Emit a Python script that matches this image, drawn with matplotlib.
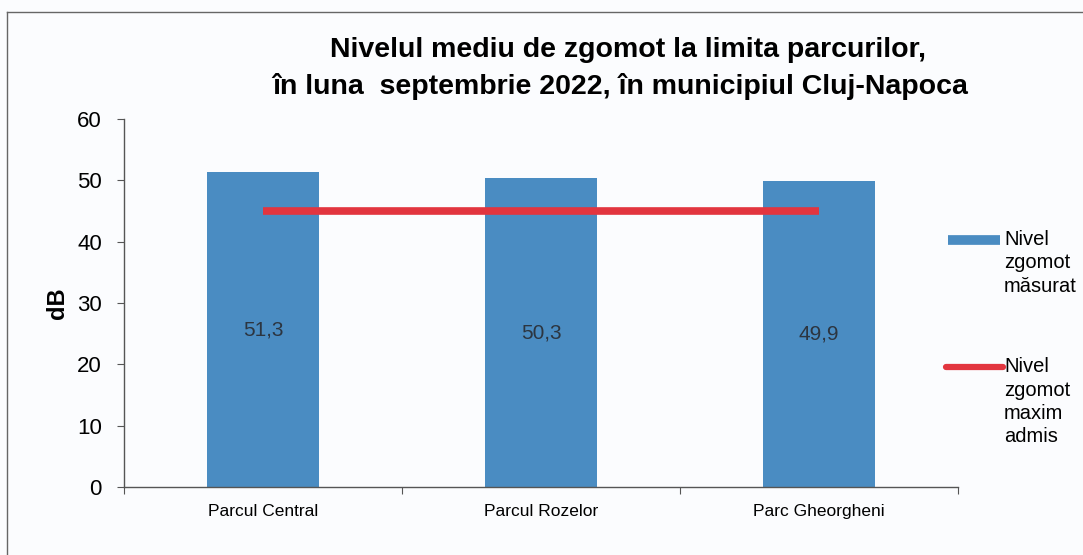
import matplotlib.pyplot as plt
from matplotlib.lines import Line2D

# noise levels at park boundaries, September 2022
parks = ["Parcul Central", "Parcul Rozelor", "Parc Gheorgheni"]
measured = [51.3, 50.3, 49.9]
max_allowed = [45, 45, 45]
value_labels = ["51,3", "50,3", "49,9"]
legend_labels = ["Nivel\nzgomot\nmăsurat", "Nivel\nzgomot\nmaxim\nadmis"]

bar_color = "#4a8cc2"
line_color = "#e2353f"

plt.rcParams["font.family"] = ["Liberation Sans", "DejaVu Sans"]

W, H = 1083, 555
fig = plt.figure(figsize=(W / 100, H / 100), dpi=100)
fig.patch.set_facecolor("#fbfcfe")
ax = fig.add_axes([124 / W, 1 - 487 / H, (958 - 124) / W, (487 - 119) / H])
ax.set_facecolor("none")

x = range(len(parks))
ax.bar(x, measured, width=0.40, color=bar_color, zorder=2)
ax.plot(x, max_allowed, color=line_color, lw=5.5, solid_capstyle="butt", zorder=3)

for xi, v, lab in zip(x, measured, value_labels):
    ax.text(xi, v / 2, lab, ha="center", va="center", fontsize=15, color="#2c3540", zorder=4)

ax.set_xlim(-0.5, 2.5)
ax.set_ylim(0, 60)
ax.set_yticks(range(0, 61, 10))
ax.set_xticks([-0.5, 0.5, 1.5, 2.5])
ax.set_xticklabels([])
ax.set_xticks(list(x), minor=True)
ax.set_xticklabels(parks, minor=True, fontsize=12.5)
ax.tick_params(axis="x", which="minor", length=0, pad=12)
ax.tick_params(axis="x", which="major", length=5, color="#555555")
ax.tick_params(axis="y", length=5, labelsize=16, pad=11, color="#555555")
for side in ["top", "right"]:
    ax.spines[side].set_visible(False)
for side in ["left", "bottom"]:
    ax.spines[side].set_color("#555555")
    ax.spines[side].set_linewidth(1.0)

ax.set_ylabel("dB", fontsize=17, fontweight="bold", labelpad=6)

fig.text(628 / W, 1 - 50 / H, "Nivelul mediu de zgomot la limita parcurilor,",
         ha="center", va="center", fontsize=20.5, fontweight="bold")
fig.text(620 / W, 1 - 87 / H, "în luna  septembrie 2022, în municipiul Cluj-Napoca",
         ha="center", va="center", fontsize=20.5, fontweight="bold")

# legend drawn by hand so the key sits beside the first text line
fig.add_artist(Line2D([948 / W, 1000 / W], [1 - 240 / H] * 2, transform=fig.transFigure,
                      color=bar_color, lw=7, solid_capstyle="butt"))
fig.add_artist(Line2D([946 / W, 1003 / W], [1 - 367 / H] * 2, transform=fig.transFigure,
                      color=line_color, lw=4.5, solid_capstyle="round"))
for y_top, lab in zip([230, 357], legend_labels):
    fig.text(1004 / W, 1 - y_top / H, lab, ha="left", va="top", fontsize=14.5,
             linespacing=1.3)

# outer frame of the chart area
fig.add_artist(Line2D([7 / W, 7 / W], [0, 1 - 12 / H], transform=fig.transFigure,
                      color="#666666", lw=1))
fig.add_artist(Line2D([7 / W, 1], [1 - 12 / H, 1 - 12 / H], transform=fig.transFigure,
                      color="#666666", lw=1))

fig.savefig("out.png", dpi=100, facecolor=fig.get_facecolor())
